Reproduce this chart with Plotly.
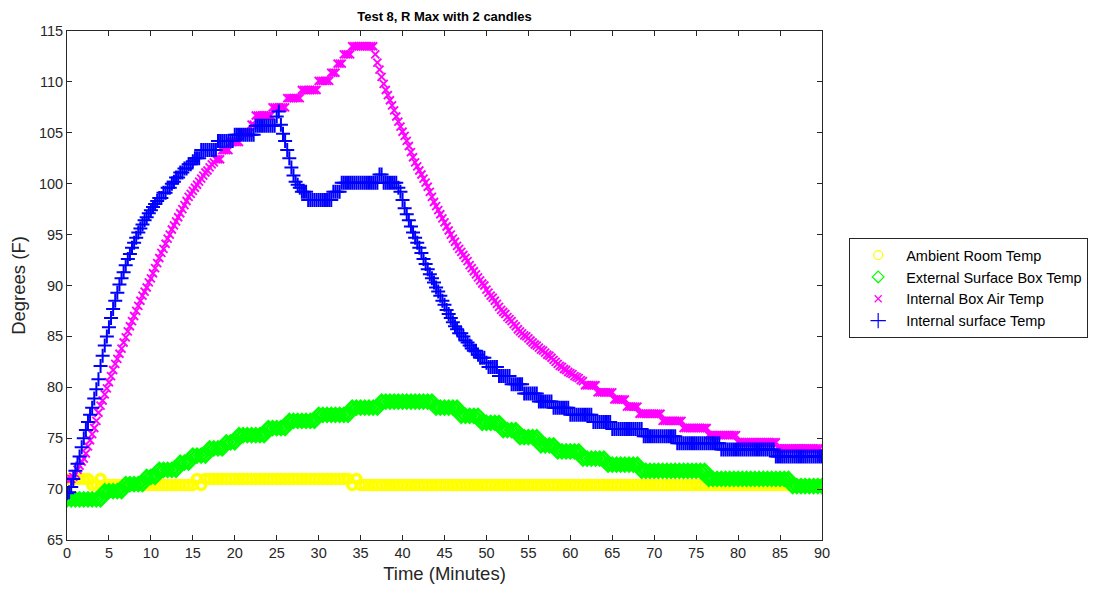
import numpy as np
import plotly.graph_objects as go

TITLE = "Test 8, R Max with 2 candles"
X_LABEL = "Time (Minutes)"
Y_LABEL = "Degrees (F)"
SERIES_NAMES = ["Ambient Room Temp", "External Surface Box Temp",
                "Internal Box Air Temp", "Internal surface Temp"]
X_TICKS = list(range(0, 91, 5))
Y_TICKS = list(range(65, 116, 5))

# Ambient room temp, read every 0.5 min (0 .. 90)
ambient = [
    71.0, 71.0, 71.0, 71.0, 71.0, 71.0, 70.4, 70.4, 71.0, 70.4,
    70.4, 70.4, 70.4, 70.4, 70.4, 70.4, 70.4, 70.4, 70.4, 70.4,
    70.4, 70.4, 70.4, 70.4, 70.4, 70.4, 70.4, 70.4, 70.4, 70.4,
    70.4, 71.0, 70.4, 71.0, 71.0, 71.0, 71.0, 71.0, 71.0, 71.0,
    71.0, 71.0, 71.0, 71.0, 71.0, 71.0, 71.0, 71.0, 71.0, 71.0,
    71.0, 71.0, 71.0, 71.0, 71.0, 71.0, 71.0, 71.0, 71.0, 71.0,
    71.0, 71.0, 71.0, 71.0, 71.0, 71.0, 71.0, 71.0, 70.4, 71.0,
    70.4, 70.4, 70.4, 70.4, 70.4, 70.4, 70.4, 70.4, 70.4, 70.4,
    70.4, 70.4, 70.4, 70.4, 70.4, 70.4, 70.4, 70.4, 70.4, 70.4,
    70.4, 70.4, 70.4, 70.4, 70.4, 70.4, 70.4, 70.4, 70.4, 70.4,
    70.4, 70.4, 70.4, 70.4, 70.4, 70.4, 70.4, 70.4, 70.4, 70.4,
    70.4, 70.4, 70.4, 70.4, 70.4, 70.4, 70.4, 70.4, 70.4, 70.4,
    70.4, 70.4, 70.4, 70.4, 70.4, 70.4, 70.4, 70.4, 70.4, 70.4,
    70.4, 70.4, 70.4, 70.4, 70.4, 70.4, 70.4, 70.4, 70.4, 70.4,
    70.4, 70.4, 70.4, 70.4, 70.4, 70.4, 70.4, 70.4, 70.4, 70.4,
    70.4, 70.4, 70.4, 70.4, 70.4, 70.4, 70.4, 70.4, 70.4, 70.4,
    70.4, 70.4, 70.4, 70.4, 70.4, 70.4, 70.4, 70.4, 70.4, 70.4,
    70.4, 70.4, 70.4, 70.4, 70.4, 70.4, 70.4, 70.4, 70.4, 70.4,
    70.4,
]

# External surface box temp, read every 0.5 min (0 .. 90)
external = [
    69.0, 69.0, 69.0, 69.0, 69.0, 69.0, 69.0, 69.0, 69.0, 69.8,
    69.8, 69.8, 69.8, 69.8, 70.5, 70.5, 70.5, 70.5, 70.5, 71.2,
    71.2, 71.2, 71.9, 71.9, 71.9, 71.9, 71.9, 72.6, 72.6, 72.6,
    73.3, 73.3, 73.3, 73.3, 74.0, 74.0, 74.0, 74.0, 74.6, 74.6,
    74.6, 75.3, 75.3, 75.3, 75.3, 75.3, 75.3, 75.3, 76.0, 76.0,
    76.0, 76.0, 76.0, 76.7, 76.7, 76.7, 76.7, 76.7, 76.7, 76.7,
    77.3, 77.3, 77.3, 77.3, 77.3, 77.3, 77.3, 77.3, 78.0, 78.0,
    78.0, 78.0, 78.0, 78.0, 78.0, 78.6, 78.6, 78.6, 78.6, 78.6,
    78.6, 78.6, 78.6, 78.6, 78.6, 78.6, 78.6, 78.6, 78.0, 78.0,
    78.0, 78.0, 78.0, 78.0, 77.2, 77.2, 77.2, 77.2, 77.2, 76.5,
    76.5, 76.5, 76.5, 76.5, 75.8, 75.8, 75.8, 75.8, 75.1, 75.1,
    75.1, 75.1, 75.1, 74.3, 74.3, 74.3, 74.3, 73.7, 73.7, 73.7,
    73.7, 73.7, 73.7, 73.0, 73.0, 73.0, 73.0, 73.0, 73.0, 72.4,
    72.4, 72.4, 72.4, 72.4, 72.4, 72.4, 72.4, 71.8, 71.8, 71.8,
    71.8, 71.8, 71.8, 71.8, 71.8, 71.8, 71.8, 71.8, 71.8, 71.8,
    71.8, 71.8, 71.8, 71.0, 71.0, 71.0, 71.0, 71.0, 71.0, 71.0,
    71.0, 71.0, 71.0, 71.0, 71.0, 71.0, 71.0, 71.0, 71.0, 71.0,
    71.0, 71.0, 71.0, 70.3, 70.3, 70.3, 70.3, 70.3, 70.3, 70.3,
    70.3,
]

# Internal box air temp, read every 0.25 min (0 .. 90)
internal_air = [
    71.0, 70.9, 71.0, 71.2, 71.5, 71.9, 72.3, 72.7,
    73.0, 73.5, 74.2, 74.8, 75.4, 76.0, 76.7, 77.5,
    78.2, 78.7, 79.3, 79.9, 80.5, 81.1, 81.7, 82.3,
    82.8, 83.3, 83.8, 84.4, 84.9, 85.5, 86.0, 86.5,
    87.0, 87.5, 88.0, 88.5, 89.0, 89.4, 89.8, 90.3,
    90.7, 91.2, 91.7, 92.2, 92.7, 93.2, 93.6, 94.1,
    94.6, 95.0, 95.5, 95.9, 96.3, 96.7, 97.1, 97.5,
    97.9, 98.3, 98.7, 99.0, 99.3, 99.6, 99.9, 100.2,
    100.5, 100.8, 101.1, 101.3, 101.6, 101.9, 102.1, 102.4,
    102.4, 102.4, 103.3, 103.3, 103.3, 103.3, 104.1, 104.1,
    104.1, 104.1, 104.1, 105.0, 105.0, 105.0, 105.0, 105.0,
    105.8, 105.8, 106.7, 106.7, 106.7, 106.7, 106.7, 106.7,
    106.7, 106.7, 107.5, 107.5, 107.5, 107.5, 107.5, 107.5,
    107.5, 108.4, 108.4, 108.4, 108.4, 108.4, 108.4, 108.4,
    109.2, 109.2, 109.2, 109.2, 109.2, 109.2, 109.2, 109.2,
    110.1, 110.1, 110.1, 110.1, 110.1, 110.1, 110.9, 110.9,
    110.9, 111.8, 111.8, 111.8, 112.7, 112.7, 112.7, 112.7,
    113.5, 113.5, 113.5, 113.5, 113.5, 113.5, 113.5, 113.5,
    113.5, 113.5, 113.5, 112.7, 111.9, 111.2, 110.5, 109.8,
    109.2, 108.7, 108.2, 107.7, 107.2, 106.6, 106.1, 105.6,
    105.1, 104.7, 104.2, 103.7, 103.1, 102.6, 102.1, 101.7,
    101.3, 100.9, 100.5, 100.1, 99.7, 99.2, 98.7, 98.2,
    97.8, 97.4, 97.0, 96.6, 96.2, 95.8, 95.4, 95.0,
    94.6, 94.3, 93.9, 93.6, 93.3, 93.0, 92.7, 92.4,
    92.0, 91.7, 91.4, 91.1, 90.8, 90.5, 90.2, 90.0,
    89.6, 89.3, 89.0, 88.8, 88.5, 88.2, 87.9, 87.6,
    87.4, 87.2, 86.9, 86.7, 86.5, 86.2, 86.0, 85.7,
    85.5, 85.3, 85.1, 85.0, 84.8, 84.6, 84.4, 84.2,
    84.1, 83.9, 83.7, 83.6, 83.4, 83.2, 83.1, 82.9,
    82.7, 82.5, 82.3, 82.1, 82.0, 81.8, 81.7, 81.5,
    81.4, 81.3, 81.1, 81.0, 80.9, 80.7, 80.6, 80.2,
    80.2, 80.2, 80.2, 80.2, 80.2, 79.5, 79.5, 79.5,
    79.5, 79.5, 79.5, 79.5, 79.5, 78.8, 78.8, 78.8,
    78.8, 78.8, 78.8, 78.1, 78.1, 78.1, 78.1, 78.1,
    78.1, 77.4, 77.4, 77.4, 77.4, 77.4, 77.4, 77.4,
    77.4, 77.4, 77.4, 77.4, 76.7, 76.7, 76.7, 76.7,
    76.7, 76.7, 76.7, 76.7, 76.7, 76.7, 76.0, 76.0,
    76.0, 76.0, 76.0, 76.0, 76.0, 76.0, 76.0, 76.0,
    76.0, 76.0, 75.3, 75.3, 75.3, 75.3, 75.3, 75.3,
    75.3, 75.3, 75.3, 75.3, 75.3, 75.3, 75.3, 75.3,
    74.6, 74.6, 74.6, 74.6, 74.6, 74.6, 74.6, 74.6,
    74.6, 74.6, 74.6, 74.6, 74.6, 74.6, 74.6, 74.6,
    74.6, 74.6, 74.6, 74.0, 74.0, 74.0, 74.0, 74.0,
    74.0, 74.0, 74.0, 74.0, 74.0, 74.0, 74.0, 74.0,
    74.0, 74.0, 74.0, 74.0, 74.0, 74.0, 74.0, 74.0,
    73.2,
]

# Internal surface temp, read every 0.25 min (0 .. 90)
internal_surface = [
    69.6, 69.7, 70.2, 71.0, 71.8, 72.5, 73.2, 74.1,
    75.0, 75.8, 76.6, 77.3, 78.0, 78.9, 79.8, 80.8,
    82.1, 83.1, 84.1, 85.0, 85.9, 86.8, 87.7, 88.5,
    89.3, 90.1, 90.7, 91.3, 92.0, 92.6, 93.1, 93.7,
    94.2, 94.7, 95.2, 95.6, 96.0, 96.4, 96.7, 97.1,
    97.4, 97.7, 98.0, 98.3, 98.6, 98.6, 99.1, 99.1,
    99.6, 99.6, 100.0, 100.2, 100.6, 100.6, 101.1, 101.1,
    101.5, 101.5, 101.9, 101.9, 102.2, 102.5, 102.5, 102.5,
    103.3, 103.3, 103.3, 103.3, 103.3, 103.3, 103.3, 103.3,
    104.2, 104.2, 104.2, 104.2, 104.2, 104.2, 104.2, 104.2,
    104.8, 104.8, 104.8, 104.8, 104.8, 104.8, 104.8, 104.8,
    104.8, 104.8, 105.7, 105.7, 105.7, 105.7, 105.7, 105.7,
    105.7, 105.7, 105.7, 105.7, 106.6, 107.1, 105.8, 104.9,
    104.2, 103.3, 102.5, 101.6, 100.8, 100.2, 99.9, 99.6,
    99.2, 99.2, 99.2, 98.4, 98.4, 98.4, 98.4, 98.4,
    98.4, 98.4, 98.4, 98.4, 98.4, 98.4, 98.4, 99.2,
    99.2, 99.2, 99.2, 100.1, 100.1, 100.1, 100.1, 100.1,
    100.1, 100.1, 100.1, 100.1, 100.1, 100.1, 100.1, 100.1,
    100.1, 100.1, 100.1, 100.1, 100.1, 100.9, 100.9, 100.1,
    100.1, 100.1, 100.1, 100.1, 100.1, 100.1, 99.6, 99.2,
    98.4, 97.6, 97.0, 96.4, 95.8, 95.2, 94.7, 94.2,
    93.7, 93.2, 92.6, 92.1, 91.6, 91.1, 90.7, 90.3,
    89.8, 89.4, 89.0, 88.5, 88.1, 87.6, 87.2, 86.8,
    86.4, 86.0, 85.7, 85.3, 85.3, 85.0, 84.6, 84.4,
    84.1, 83.8, 83.6, 83.6, 83.2, 82.9, 82.9, 82.9,
    82.4, 82.0, 82.0, 82.0, 82.0, 82.0, 81.1, 81.1,
    81.1, 81.1, 81.1, 81.1, 80.3, 80.3, 80.3, 80.3,
    80.3, 80.3, 79.4, 79.4, 79.4, 79.4, 79.4, 79.4,
    79.4, 78.6, 78.6, 78.6, 78.6, 78.6, 78.6, 78.6,
    78.0, 78.0, 78.0, 78.0, 78.0, 78.0, 78.0, 78.0,
    77.3, 77.3, 77.3, 77.3, 77.3, 77.3, 77.3, 77.3,
    77.3, 77.3, 77.3, 76.6, 76.6, 76.6, 76.6, 76.6,
    76.6, 76.6, 76.6, 76.6, 75.9, 75.9, 75.9, 75.9,
    75.9, 75.9, 75.9, 75.9, 75.9, 75.9, 75.9, 75.9,
    75.9, 75.9, 75.9, 75.2, 75.2, 75.2, 75.2, 75.2,
    75.2, 75.2, 75.2, 75.2, 75.2, 75.2, 75.2, 75.2,
    75.2, 75.2, 75.2, 74.5, 74.5, 74.5, 74.5, 74.5,
    74.5, 74.5, 74.5, 74.5, 74.5, 74.5, 74.5, 74.5,
    74.5, 74.5, 74.5, 74.5, 74.5, 74.5, 74.5, 74.5,
    73.9, 73.9, 73.9, 73.9, 73.9, 73.9, 73.9, 73.9,
    73.9, 73.9, 73.9, 73.9, 73.9, 73.9, 73.9, 73.9,
    73.9, 73.9, 73.9, 73.9, 73.9, 73.9, 73.9, 73.9,
    73.9, 73.9, 73.2, 73.2, 73.2, 73.2, 73.2, 73.2,
    73.2, 73.2, 73.2, 73.2, 73.2, 73.2, 73.2, 73.2,
    73.2, 73.2, 73.2, 73.2, 73.2, 73.2, 73.2, 73.2,
    73.2,
]

t_amb = np.arange(len(ambient)) * 0.5
t_ext = np.arange(len(external)) * 0.5
t_air = np.arange(len(internal_air)) * 0.25
t_surf = np.arange(len(internal_surface)) * 0.25

AXIS_COLOR = "#262626"
FONT = "Liberation Sans, Arial, Helvetica, sans-serif"
COLORS = ["#FFFF00", "#00FF00", "#FF00FF", "#0000FF"]
SYMBOLS = ["circle-open", "diamond-open", "x-thin-open", "cross-thin-open"]
PLOT_SIZES = [9, 10, 8, 10]
PLOT_WIDTHS = [3.5, 3, 1.9, 2]
LEGEND_SIZES = [9, 9, 7, 11]

# the page adds an 8 px body margin, so the figure is 16 px smaller than the window
W, H = 1082, 583

fig = go.Figure()
for name, xs, ys, col, sym, sz, lw in zip(
        SERIES_NAMES, [t_amb, t_ext, t_air, t_surf],
        [ambient, external, internal_air, internal_surface],
        COLORS, SYMBOLS, PLOT_SIZES, PLOT_WIDTHS):
    fig.add_trace(go.Scatter(
        x=xs, y=ys, mode="markers", name=name, showlegend=False,
        marker=dict(symbol=sym, size=sz, color=col, line=dict(width=lw, color=col)),
    ))

# legend entries with thin MATLAB-like markers
for name, col, sym, sz in zip(SERIES_NAMES, COLORS, SYMBOLS, LEGEND_SIZES):
    fig.add_trace(go.Scatter(
        x=[None], y=[None], mode="markers", name=name, showlegend=True,
        marker=dict(symbol=sym, size=sz, color=col, line=dict(width=1.2, color=col)),
    ))

axis_common = dict(
    showline=True, linecolor=AXIS_COLOR, linewidth=1, mirror="ticks",
    ticks="inside", ticklen=5, tickcolor=AXIS_COLOR, tickwidth=1,
    showgrid=False, zeroline=False, automargin=False,
    tickfont=dict(family=FONT, size=14.5, color=AXIS_COLOR),
)

fig.update_layout(
    width=W, height=H,
    paper_bgcolor="white", plot_bgcolor="white",
    margin=dict(l=59, r=268, t=23, b=51, autoexpand=False),
    font=dict(family=FONT, color=AXIS_COLOR),
    title=dict(text="<b>" + TITLE + "</b>", x=436.5 / W, xanchor="center",
               y=1 - 8 / H, yanchor="middle", yref="container",
               font=dict(family=FONT, size=13, color="#000000")),
    xaxis=dict(range=[0, 90], tickvals=X_TICKS,
               title=dict(text=X_LABEL, font=dict(family=FONT, size=18.5, color=AXIS_COLOR), standoff=6),
               **axis_common),
    yaxis=dict(range=[65, 115], tickvals=Y_TICKS,
               title=dict(text=Y_LABEL, font=dict(family=FONT, size=18.5, color=AXIS_COLOR), standoff=10),
               **axis_common),
    legend=dict(x=1.036, y=0.593, xanchor="left", yanchor="top",
                bordercolor=AXIS_COLOR, borderwidth=1, bgcolor="white",
                font=dict(family=FONT, size=14.5, color="#000000"),
                itemwidth=46, tracegroupgap=0),
    showlegend=True,
)

fig.write_html("out.html")
